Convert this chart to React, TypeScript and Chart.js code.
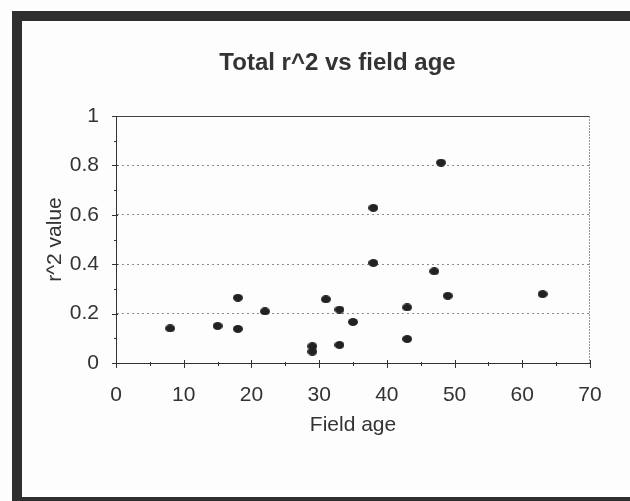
import React, { useEffect, useRef } from "react";
import { Chart, registerables } from "chart.js";

Chart.register(...registerables);

// ---- data ----
const fieldAge = [8, 15, 18, 18, 22, 29, 29, 31, 33, 33, 35, 38, 38, 43, 43, 47, 48, 49, 63];
const r2Value = [0.14, 0.15, 0.264, 0.138, 0.209, 0.068, 0.046, 0.258, 0.216, 0.073, 0.166, 0.628, 0.405, 0.225, 0.097, 0.371, 0.811, 0.272, 0.279];
const xTicks = [0, 10, 20, 30, 40, 50, 60, 70];
const yTicks = [0, 0.2, 0.4, 0.6, 0.8, 1];
const xMinorStep = 5;
const yMinorStep = 0.1;

const titleText = "Total r^2 vs field age";
const xTitle = "Field age";
const yTitle = "r^2 value";

const FONT = "'Liberation Sans', Arial, sans-serif";
const INK = "#333333";

const framePlugin = {
  id: "frame",
  beforeDraw(chart: any) {
    const ctx = chart.ctx;
    const W = chart.width;
    const H = chart.height;
    ctx.save();
    ctx.fillStyle = "#fdfdfd";
    ctx.fillRect(0, 0, W, H);
    ctx.fillStyle = "#2f2f2f";
    ctx.fillRect(12, 11, W - 12, 10); // top bar
    ctx.fillRect(12, 11, 10, H - 11); // left bar
    ctx.fillRect(12, 497, W - 12, H - 497); // bottom bar
    ctx.restore();
  },
  afterDraw(chart: any) {
    const ctx = chart.ctx;
    const { left, right, top, bottom } = chart.chartArea;
    const xs = chart.scales.x;
    const ys = chart.scales.y;
    ctx.save();
    // top border
    ctx.strokeStyle = "#444";
    ctx.lineWidth = 1;
    ctx.beginPath();
    ctx.moveTo(left, top + 0.5);
    ctx.lineTo(right, top + 0.5);
    ctx.stroke();
    // right border (light, dotted)
    ctx.strokeStyle = "#999";
    ctx.setLineDash([2, 1]);
    ctx.beginPath();
    ctx.moveTo(right - 0.5, top);
    ctx.lineTo(right - 0.5, bottom);
    ctx.stroke();
    ctx.setLineDash([]);
    // tick marks
    ctx.strokeStyle = "#333";
    const xmin = xs.min, xmax = xs.max;
    for (let v = xmin; v <= xmax + 1e-9; v += xMinorStep) {
      const px = Math.round(xs.getPixelForValue(v)) + 0.5;
      const major = Math.abs(v % 10) < 1e-9;
      ctx.beginPath();
      ctx.moveTo(px, bottom - (major ? 3 : 1));
      ctx.lineTo(px, bottom + (major ? 5 : 3));
      ctx.stroke();
    }
    const ymin = ys.min, ymax = ys.max;
    for (let i = 0; ymin + i * yMinorStep <= ymax + 1e-9; i++) {
      const v = ymin + i * yMinorStep;
      const py = Math.round(ys.getPixelForValue(v)) + 0.5;
      const major = i % 2 === 0;
      ctx.beginPath();
      ctx.moveTo(left - (major ? 4 : 2), py);
      ctx.lineTo(left + (major ? 2 : 1), py);
      ctx.stroke();
    }
    ctx.restore();
  },
};

export default function App() {
  const ref = useRef<HTMLCanvasElement | null>(null);

  useEffect(() => {
    if (!ref.current) return;
    const dot = document.createElement("canvas");
    dot.width = 10;
    dot.height = 8;
    const dctx = dot.getContext("2d")!;
    dctx.fillStyle = "#222";
    dctx.beginPath();
    dctx.ellipse(5, 4, 5, 4, 0, 0, Math.PI * 2);
    dctx.fill();

    const chart = new Chart(ref.current, {
      type: "scatter",
      data: {
        datasets: [
          {
            data: fieldAge.map((a, i) => ({ x: a, y: r2Value[i] })),
            pointStyle: dot as any,
            pointRadius: 5,
            backgroundColor: "#222",
            borderColor: "#222",
          },
        ],
      },
      plugins: [framePlugin],
      options: {
        responsive: false,
        maintainAspectRatio: false,
        devicePixelRatio: 1,
        animation: false,
        layout: { padding: { left: 45, right: 0, top: 0, bottom: 0 } },
        plugins: {
          legend: { display: false },
          tooltip: { enabled: false },
          title: {
            display: true,
            text: titleText,
            color: INK,
            font: { family: FONT, size: 24, weight: "bold", lineHeight: 1.2 },
            padding: { top: 49, bottom: 38.2 },
          },
        },
        scales: {
          x: {
            type: "linear",
            min: 0,
            max: 70,
            afterBuildTicks: (s: any) => {
              s.ticks = xTicks.map((v) => ({ value: v }));
            },
            afterFit: (s: any) => {
              s.height = 138;
            },
            grid: { display: false, drawTicks: false },
            border: { display: true, color: "#333", width: 1 },
            ticks: {
              color: INK,
              font: { family: FONT, size: 21 },
              padding: 20,
              maxRotation: 0,
            },
            title: {
              display: true,
              text: xTitle,
              color: INK,
              font: { family: FONT, size: 21, lineHeight: 1.2 },
              padding: { top: 0, bottom: 63 },
            },
          },
          y: {
            type: "linear",
            min: 0,
            max: 1,
            afterBuildTicks: (s: any) => {
              s.ticks = yTicks.map((v) => ({ value: v }));
            },
            afterFit: (s: any) => {
              s.width = 71;
            },
            grid: {
              display: true,
              drawTicks: false,
              color: (c: any) =>
                c.tick && c.tick.value > 0.001 && c.tick.value < 0.999 ? "#8a8a8a" : "rgba(0,0,0,0)",
              lineWidth: 1,
            },
            border: { display: true, color: "#333", width: 1, dash: [2, 3] },
            ticks: {
              color: INK,
              font: { family: FONT, size: 21 },
              padding: 17,
              callback: (v: any) => String(Math.round(Number(v) * 10) / 10),
            },
            title: {
              display: true,
              text: yTitle,
              color: INK,
              font: { family: FONT, size: 21, lineHeight: 1 },
              padding: { top: 0, bottom: 0 },
            },
          },
          y2: {
            type: "linear",
            position: "right",
            display: true,
            afterFit: (s: any) => {
              s.width = 40;
            },
            grid: { display: false, drawTicks: false },
            border: { display: false },
            ticks: { display: false },
          },
        },
      } as any,
    });
    return () => chart.destroy();
  }, []);

  return (
    <div style={{ position: "absolute", left: 0, top: 0, width: 630, height: 501 }}>
      <canvas ref={ref} width={630} height={501} style={{ display: "block" }} />
    </div>
  );
}
